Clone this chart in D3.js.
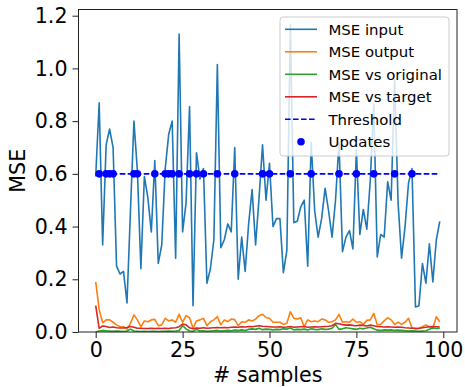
<!DOCTYPE html>
<html>
<head>
<meta charset="utf-8">
<script src="https://cdn.jsdelivr.net/npm/d3@7"></script>
<style>
  html, body { margin: 0; padding: 0; background: #fff; }
  svg { display: block; font-family: "DejaVu Sans", sans-serif; }
</style>
</head>
<body>
<svg id="chart" width="465" height="387"></svg>
<script>
// MSE values per sample
const mseInput = [
  0.59, 0.87, 0.33, 0.71, 0.77, 0.70, 0.25, 0.22, 0.23, 0.11,
  0.46, 0.80, 0.61, 0.24, 0.59, 0.51, 0.38, 0.65, 0.26, 0.33,
  0.62, 0.75, 0.80, 0.28, 1.13, 0.38, 0.49, 0.855, 0.10, 0.68,
  0.58, 0.62, 0.185, 0.24, 0.35, 1.015, 0.32, 0.35, 0.41, 0.38,
  0.70, 0.20, 0.36, 0.23, 0.41, 0.54, 0.33, 0.51, 0.71, 0.50,
  0.64, 0.40, 0.43, 0.43, 0.225, 0.31, 1.165, 0.415, 0.42, 0.475,
  0.50, 0.25, 0.72, 0.46, 0.36, 0.43, 0.545, 0.46, 0.36, 0.50,
  0.72, 0.305, 0.36, 0.385, 0.315, 0.69, 0.37, 0.465, 0.39, 0.575,
  0.865, 0.285, 0.37, 0.36, 0.57, 0.50, 0.96, 0.49, 0.28, 0.40,
  0.565, 0.62, 0.095, 0.10, 0.26, 0.185, 0.335, 0.19, 0.35, 0.42
];
const mseOutput = [
  0.19, 0.085, 0.035, 0.046, 0.046, 0.037, 0.027, 0.020, 0.020, 0.011,
  0.033, 0.065, 0.046, 0.020, 0.042, 0.039, 0.046, 0.048, 0.024, 0.027,
  0.052, 0.042, 0.046, 0.037, 0.067, 0.037, 0.062, 0.054, 0.014, 0.042,
  0.046, 0.052, 0.024, 0.039, 0.046, 0.058, 0.027, 0.046, 0.039, 0.049,
  0.047, 0.024, 0.039, 0.037, 0.046, 0.042, 0.049, 0.062, 0.067, 0.055,
  0.052, 0.037, 0.037, 0.037, 0.029, 0.033, 0.077, 0.052, 0.049, 0.054,
  0.020, 0.046, 0.039, 0.042, 0.039, 0.049, 0.046, 0.037, 0.039, 0.046,
  0.067, 0.037, 0.039, 0.037, 0.049, 0.037, 0.039, 0.029, 0.044, 0.046,
  0.071, 0.027, 0.029, 0.042, 0.054, 0.046, 0.029, 0.037, 0.029, 0.037,
  0.052, 0.016, 0.011, 0.014, 0.020, 0.027, 0.020, 0.014, 0.058, 0.039
];
const mseOriginal = [
  0.000, 0.004, 0.006, 0.005, 0.004, 0.003, 0.004, 0.003, 0.002, 0.004,
  0.011, 0.004, 0.003, 0.002, 0.003, 0.002, 0.003, 0.003, 0.002, 0.003,
  0.003, 0.004, 0.003, 0.004, 0.006, 0.024, 0.012, 0.004, 0.003, 0.010,
  0.004, 0.005, 0.003, 0.004, 0.005, 0.006, 0.004, 0.005, 0.006, 0.005,
  0.007, 0.006, 0.008, 0.006, 0.010, 0.012, 0.010, 0.014, 0.009, 0.011,
  0.010, 0.008, 0.010, 0.009, 0.012, 0.011, 0.015, 0.008, 0.010, 0.009,
  0.011, 0.008, 0.012, 0.010, 0.009, 0.012, 0.010, 0.011, 0.014, 0.029,
  0.010, 0.012, 0.016, 0.014, 0.012, 0.010, 0.014, 0.012, 0.015, 0.018,
  0.012, 0.007, 0.006, 0.008, 0.007, 0.008, 0.006, 0.007, 0.006, 0.005,
  0.004, 0.005, 0.004, 0.003, 0.004, 0.005, 0.010, 0.015, 0.013, 0.014
];
const mseTarget = [
  0.100, 0.014, 0.023, 0.021, 0.017, 0.019, 0.016, 0.015, 0.015, 0.017,
  0.021, 0.018, 0.014, 0.014, 0.013, 0.013, 0.014, 0.013, 0.014, 0.013,
  0.014, 0.013, 0.015, 0.016, 0.020, 0.030, 0.027, 0.016, 0.012, 0.015,
  0.014, 0.016, 0.014, 0.015, 0.016, 0.017, 0.016, 0.017, 0.016, 0.018,
  0.019, 0.018, 0.020, 0.019, 0.021, 0.020, 0.022, 0.024, 0.022, 0.021,
  0.020, 0.019, 0.019, 0.020, 0.018, 0.019, 0.021, 0.018, 0.019, 0.020,
  0.021, 0.018, 0.019, 0.020, 0.019, 0.020, 0.021, 0.022, 0.024, 0.033,
  0.031, 0.028, 0.026, 0.027, 0.025, 0.024, 0.026, 0.025, 0.023, 0.026,
  0.024, 0.021, 0.020, 0.019, 0.020, 0.019, 0.018, 0.019, 0.018, 0.016,
  0.015, 0.014, 0.014, 0.013, 0.016, 0.018, 0.020, 0.021, 0.020, 0.019
];
const threshold = 0.6;
const updateIdx = [1, 3, 4, 5, 11, 12, 17, 20, 21, 22, 24, 27, 29, 31, 35, 40, 48, 50, 56, 62, 70, 75, 80, 86, 91];
const xTicks = [0, 25, 50, 75, 100];
const yTicks = [0.0, 0.2, 0.4, 0.6, 0.8, 1.0, 1.2];
const legendItems = ["MSE input", "MSE output", "MSE vs original", "MSE vs target", "Threshold", "Updates"];

const svg = d3.select("#chart");
const plot = { left: 78.5, right: 457, top: 9.5, bottom: 332 };
const n = mseInput.length;
const AXIS_FONT = "20.6px";
const LEGEND_FONT = "14.9px";

const x = d3.scaleLinear()
    .domain([-0.05 * (n - 1), (n - 1) * 1.05])
    .range([plot.left, plot.right]);
const y = d3.scaleLinear()
    .domain([0, 1.2235])
    .range([plot.bottom, plot.top]);

const series = [
  { name: "MSE input", values: mseInput, color: "#1f77b4" },
  { name: "MSE output", values: mseOutput, color: "#ff7f0e" },
  { name: "MSE vs original", values: mseOriginal, color: "#2ca02c" },
  { name: "MSE vs target", values: mseTarget, color: "#d62728" }
];

// clip to axes area
svg.append("clipPath").attr("id", "clip")
  .append("rect")
    .attr("x", plot.left).attr("y", plot.top)
    .attr("width", plot.right - plot.left)
    .attr("height", plot.bottom - plot.top);

const g = svg.append("g").attr("clip-path", "url(#clip)");

const line = d3.line()
    .x((d, i) => x(i))
    .y(d => y(d));

series.forEach(s => {
  g.append("path")
      .datum(s.values)
      .attr("fill", "none")
      .attr("stroke", s.color)
      .attr("stroke-width", 1.6)
      .attr("stroke-linejoin", "round")
      .attr("d", line);
});

// threshold line
g.append("line")
    .attr("x1", x(0)).attr("x2", x(n - 1))
    .attr("y1", y(threshold)).attr("y2", y(threshold))
    .attr("stroke", "#0000ff")
    .attr("stroke-width", 1.6)
    .attr("stroke-dasharray", "5.6,2.4");

// update markers
g.selectAll("circle.update")
  .data(updateIdx)
  .join("circle")
    .attr("class", "update")
    .attr("cx", d => x(d))
    .attr("cy", y(threshold))
    .attr("r", 3.8)
    .attr("fill", "#0000ff");

// axes
const xAxis = d3.axisBottom(x).tickValues(xTicks).tickSize(6).tickPadding(4)
    .tickFormat(d3.format("d"));
const yAxis = d3.axisLeft(y).tickValues(yTicks).tickSize(6).tickPadding(5)
    .tickFormat(d3.format(".1f"));

const gx = svg.append("g")
    .attr("transform", `translate(0,${plot.bottom})`)
    .call(xAxis);
const gy = svg.append("g")
    .attr("transform", `translate(${plot.left},0)`)
    .call(yAxis);

[gx, gy].forEach(a => {
  a.select(".domain").remove();
  a.selectAll(".tick line").attr("stroke", "#222").attr("stroke-width", 1);
  a.selectAll(".tick text")
      .attr("fill", "#000")
      .style("font-size", AXIS_FONT)
      .style("font-family", "DejaVu Sans");
});

// frame
svg.append("rect")
    .attr("x", plot.left).attr("y", plot.top)
    .attr("width", plot.right - plot.left)
    .attr("height", plot.bottom - plot.top)
    .attr("fill", "none")
    .attr("stroke", "#222")
    .attr("stroke-width", 1);

// axis labels
svg.append("text")
    .attr("x", (plot.left + plot.right) / 2)
    .attr("y", 382)
    .attr("text-anchor", "middle")
    .style("font-size", AXIS_FONT)
    .text("# samples");

svg.append("text")
    .attr("transform", `translate(25,${(plot.top + plot.bottom) / 2}) rotate(-90)`)
    .attr("text-anchor", "middle")
    .style("font-size", AXIS_FONT)
    .text("MSE");

// legend
const legend = svg.append("g").attr("transform", "translate(280,17)");
legend.append("rect")
    .attr("width", 169).attr("height", 139)
    .attr("rx", 3)
    .attr("fill", "#fff").attr("fill-opacity", 0.8)
    .attr("stroke", "#ccc").attr("stroke-width", 1);

const rowY = i => 12.3 + i * 22.5;
const legendColors = ["#1f77b4", "#ff7f0e", "#2ca02c", "#d62728", "#0000ff", "#0000ff"];

legendItems.forEach((label, i) => {
  const row = legend.append("g").attr("transform", `translate(0,${rowY(i)})`);
  if (i < 5) {
    row.append("line")
        .attr("x1", 5).attr("x2", 37)
        .attr("stroke", legendColors[i])
        .attr("stroke-width", 1.6)
        .attr("stroke-dasharray", i === 4 ? "5.6,2.4" : null);
  } else {
    row.append("circle").attr("cx", 21).attr("r", 3.8).attr("fill", legendColors[i]);
  }
  row.append("text")
      .attr("x", 48.5)
      .attr("dy", "0.36em")
      .style("font-size", LEGEND_FONT)
      .text(label);
});
</script>
</body>
</html>
